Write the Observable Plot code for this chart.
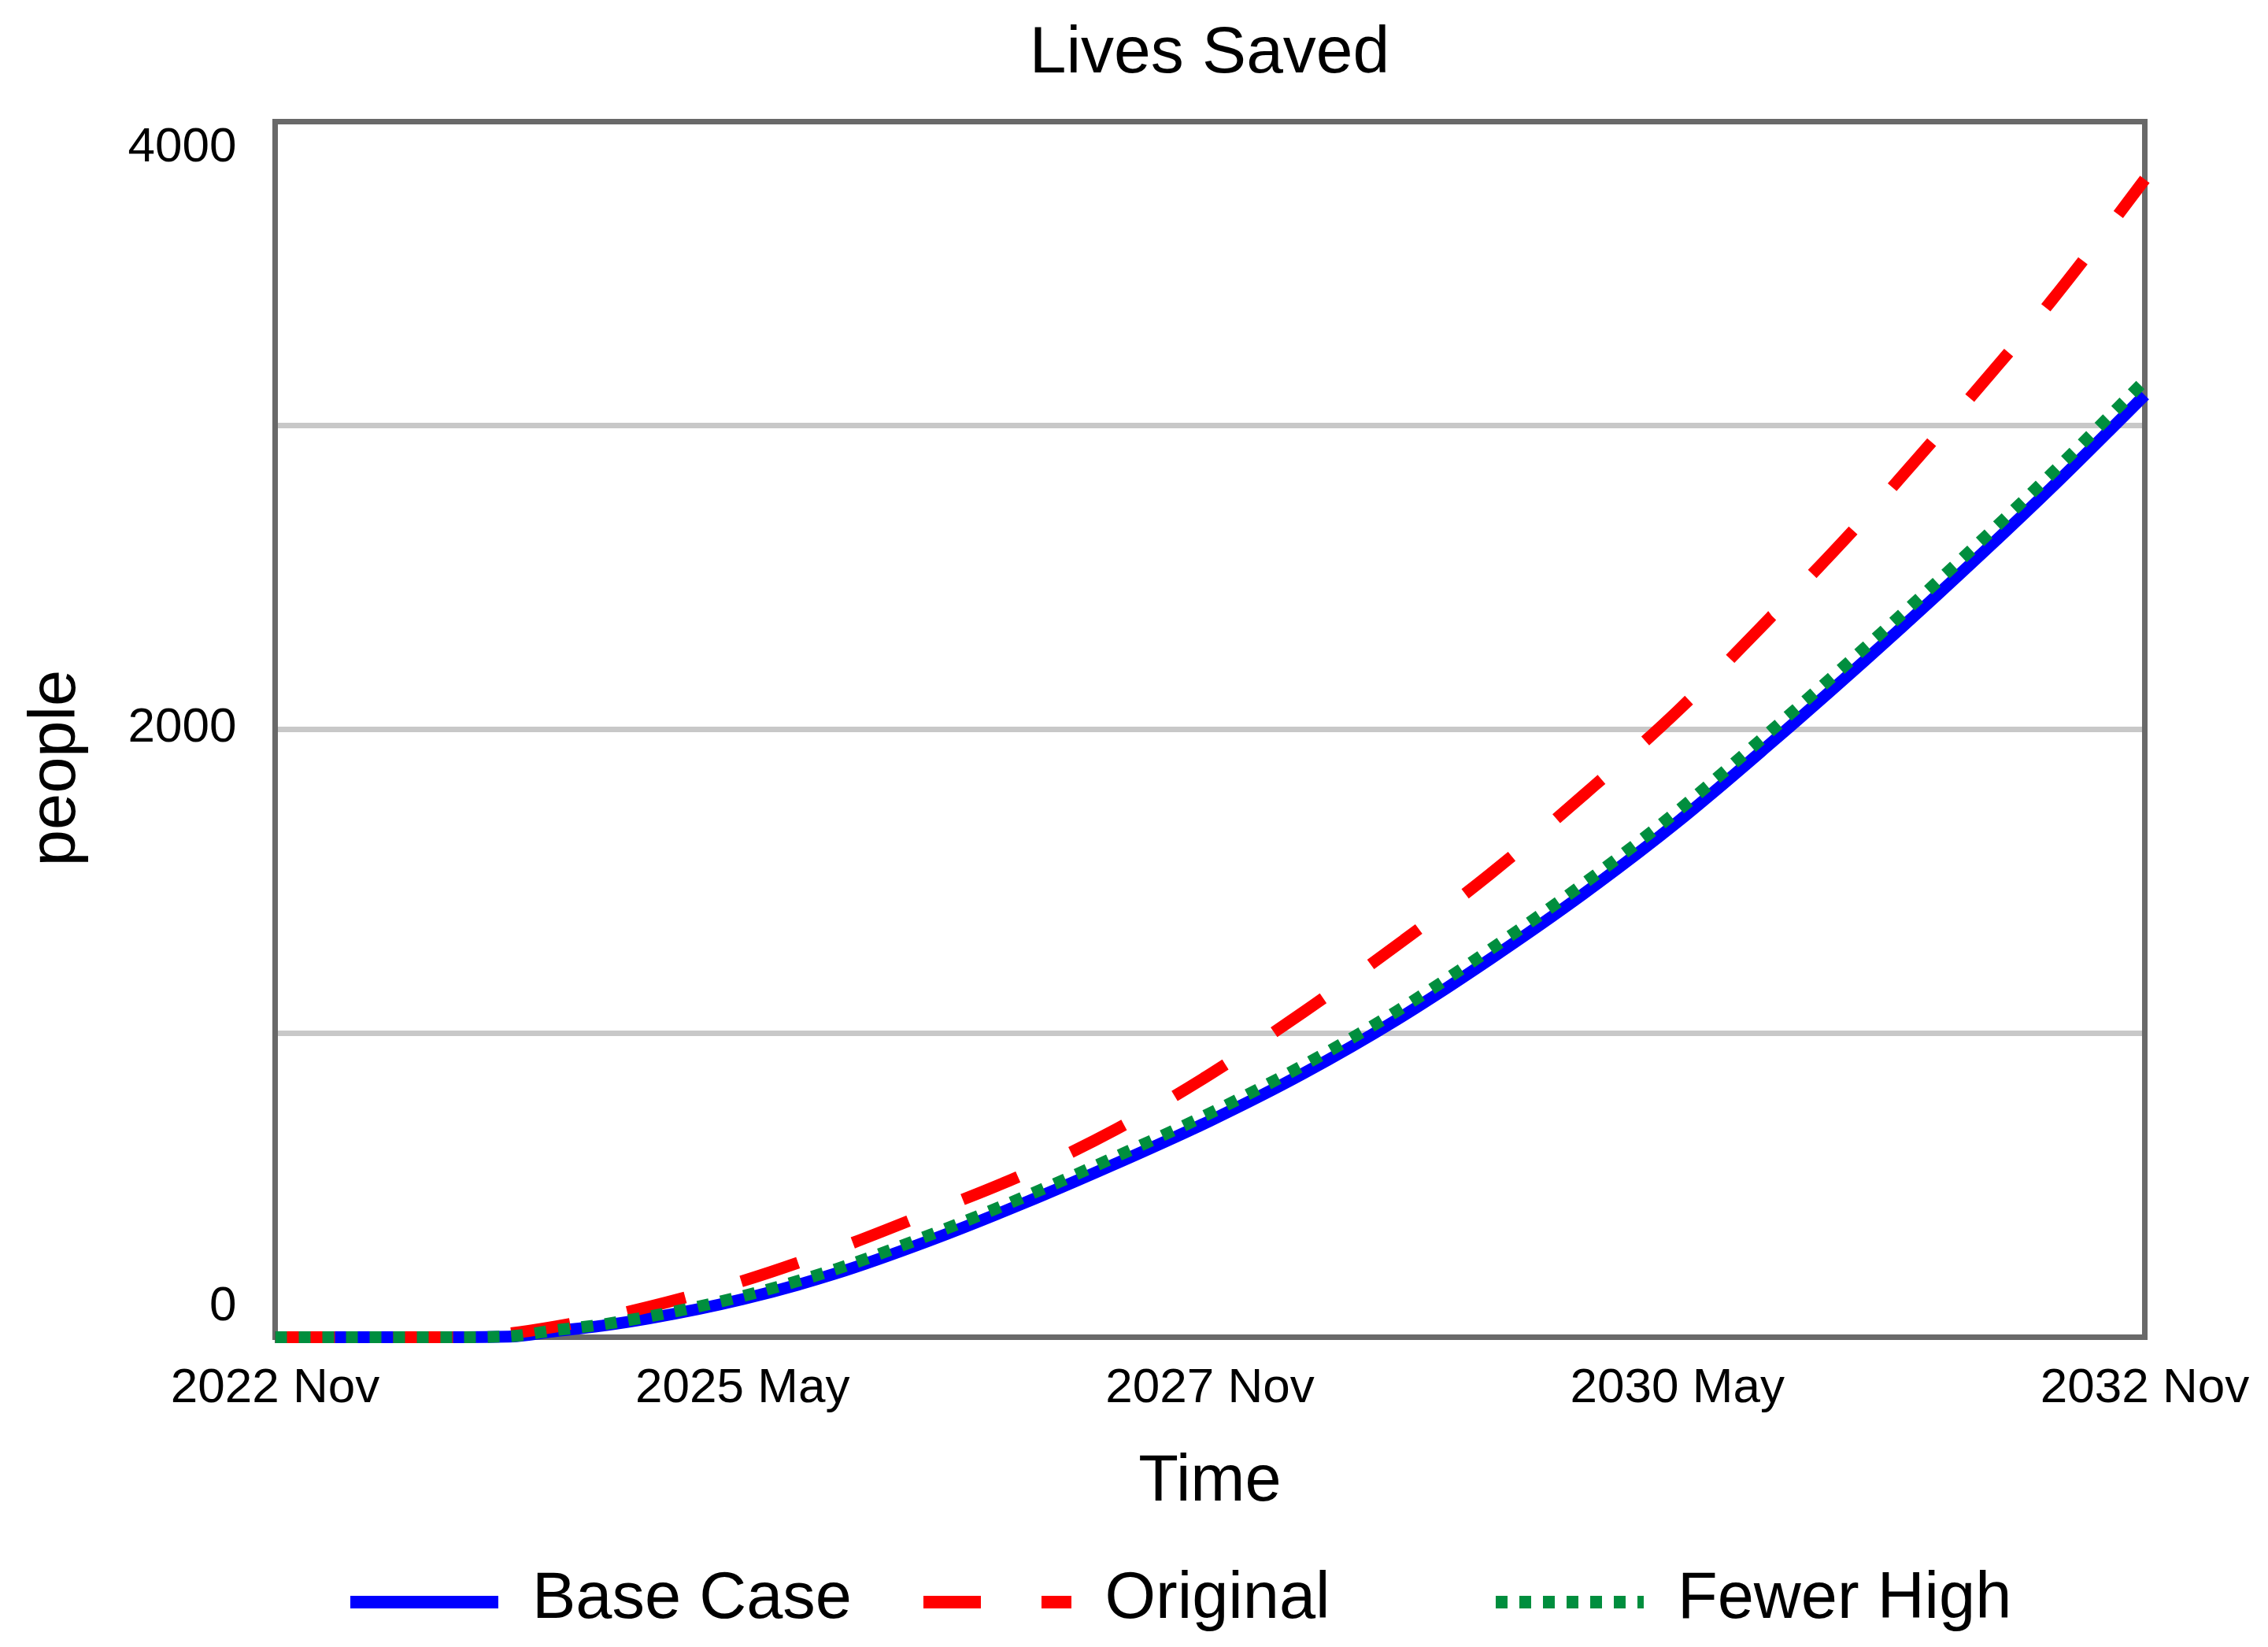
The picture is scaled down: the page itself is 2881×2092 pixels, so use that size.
<!DOCTYPE html>
<html>
<head>
<meta charset="utf-8">
<script src="https://cdn.jsdelivr.net/npm/d3@7"></script>
<script src="https://cdn.jsdelivr.net/npm/@observablehq/plot@0.6"></script>
<style>
  html, body { margin: 0; padding: 0; background: #ffffff; }
  #wrap { position: relative; width: 2881px; height: 2092px; background: #ffffff;
          font-family: "Liberation Sans", Arial, sans-serif; color: #000; }
  #title { position: absolute; left: 349px; width: 2375px; top: 21px; text-align: center;
           font-size: 84px; line-height: 84px; white-space: nowrap; }
  #chart { position: absolute; left: 0; top: 120px; }
  #legend { position: absolute; left: 0; top: 1960px; width: 2881px; height: 132px; }
  .item { position: absolute; top: 0; height: 132px; }
  .item svg { position: absolute; left: 0; top: 65px; }
  .item span { position: absolute; left: 231px; top: 25px; font-size: 83px; line-height: 83px; white-space: nowrap; }
</style>
</head>
<body>
<div id="wrap">
  <div id="title"></div>
  <div id="chart"></div>
  <div id="legend"></div>
</div>
<script>
// ---- data (months since 2022 Nov) ----
const months     = [0, 6, 12, 15, 18, 21, 24, 30, 36, 42, 48, 54, 60, 66, 72, 78, 84, 90, 96, 102, 108, 114, 120];
const baseCase   = [0, 0, 0, 2, 20, 38, 62, 125, 210, 318, 440, 572, 712, 868, 1045, 1245, 1460, 1695, 1955, 2225, 2505, 2795, 3100];
const original   = [0, 0, 0, 12, 35, 65, 100, 185, 290, 410, 535, 685, 865, 1070, 1290, 1525, 1785, 2060, 2370, 2695, 3045, 3410, 3810];
const fewerHigh  = [0, 0, 0, 3, 23, 42, 68, 135, 224, 336, 460, 595, 737, 895, 1073, 1276, 1493, 1731, 1995, 2267, 2549, 2841, 3148];
const seriesNames = ["Base Case", "Original", "Fewer High"];
const xTicks = [0, 30, 60, 90, 120];
const xTickLabels = ["2022 Nov", "2025 May", "2027 Nov", "2030 May", "2032 Nov"];
const yTicks = [0, 2000, 4000];
const yGrid = [1000, 2000, 3000];
const chartTitle = "Lives Saved";
const xLabel = "Time";
const yLabel = "people";

// ---- styles ----
const seriesColors = ["#0000ff", "#ff0000", "#008e3e"];
const seriesDash = [undefined, "76,74", "15,15"];
const legendDash = [null, "73,77", "15,15"];
const seriesValues = [baseCase, original, fewerHigh];
const lineWidth = 15;

document.getElementById("title").textContent = chartTitle;

const rows = vals => months.map((m, i) => ({m, v: vals[i]}));

const lineMarks = seriesValues.map((vals, k) =>
  Plot.line(rows(vals), {
    x: "m", y: "v",
    stroke: seriesColors[k],
    strokeWidth: lineWidth,
    strokeDasharray: seriesDash[k],
    strokeLinecap: "butt",
    strokeLinejoin: "round",
    curve: "monotone-x"
  })
);

const yLabelAnchors = [
  {lineAnchor: "bottom", dy: -22},
  {lineAnchor: "middle", dy: -4},
  {lineAnchor: "top", dy: 6}
];

const chart = Plot.plot({
  width: 2881,
  height: 1840,
  marginTop: 34,
  marginBottom: 262,
  marginLeft: 349,
  marginRight: 157,
  style: {background: "#ffffff", fontFamily: "'Liberation Sans', Arial, sans-serif", fontSize: "62px", color: "#000", overflow: "visible"},
  x: {domain: [0, 120], axis: null},
  y: {domain: [0, 4000], axis: null},
  marks: [
    Plot.ruleY(yGrid, {stroke: "#c8c8c8", strokeWidth: 7}),
    Plot.frame({stroke: "#696969", strokeWidth: 7}),
    ...lineMarks,
    Plot.text(xTicks, {
      x: d => d, text: (d, i) => xTickLabels[i],
      frameAnchor: "bottom", lineAnchor: "bottom", textAnchor: "middle", dy: 82,
      fontSize: 62, fill: "#000"
    }),
    ...yTicks.map((t, i) => Plot.text([t], {
      y: d => d, text: d => String(d),
      frameAnchor: "left", textAnchor: "end", dx: -49,
      lineAnchor: yLabelAnchors[i].lineAnchor, dy: yLabelAnchors[i].dy,
      fontSize: 62, fill: "#000"
    })),
    Plot.text([xLabel], {
      text: d => d, frameAnchor: "bottom", lineAnchor: "bottom", textAnchor: "middle", dy: 207,
      fontSize: 83, fill: "#000"
    }),
    Plot.text([yLabel], {
      text: d => d, frameAnchor: "left", lineAnchor: "bottom", textAnchor: "middle", rotate: -90,
      dx: -255, dy: 49, fontSize: 83, fill: "#000"
    })
  ]
});
document.getElementById("chart").appendChild(chart);

// ---- legend ----
const legend = d3.select("#legend");
seriesNames.forEach((name, k) => {
  const item = legend.append("div").attr("class", "item").style("left", (445 + k * 727.5) + "px");
  const svg = item.append("svg").attr("width", 188).attr("height", 20);
  svg.append("line")
    .attr("x1", 0).attr("x2", 188).attr("y1", 10).attr("y2", 10)
    .attr("stroke", seriesColors[k]).attr("stroke-width", 16)
    .attr("stroke-dasharray", legendDash[k]);
  item.append("span").text(name);
});
</script>
</body>
</html>
